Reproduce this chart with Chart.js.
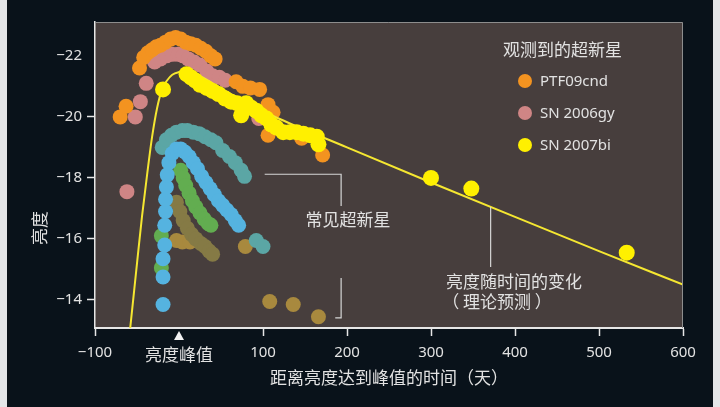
<!DOCTYPE html>
<html>
<head>
<meta charset="utf-8">
<script src="https://cdn.jsdelivr.net/npm/chart.js@4.4.0/dist/chart.umd.min.js"></script>
<style>
    html, body { margin: 0; padding: 0; background: #e4e6e8; }
    #wrap { width: 720px; height: 407px; }
</style>
</head>
<body>
<div id="wrap"><canvas id="chart" width="720" height="407"></canvas></div>
<script>
// наблюдаемые сверхновые: [дни от пика, звёздная величина]
const ptf09cnd = [[-70,-20.0],[-63,-20.35],[-47,-21.6],[-42,-21.95],[-37,-22.1],[-32,-22.2],[-27,-22.3],[-22,-22.35],[-16,-22.45],[-10,-22.55],[-4,-22.6],[2,-22.55],[8,-22.45],[14,-22.4],[20,-22.35],[26,-22.25],[32,-22.15],[38,-22.0],[43,-21.9],[68,-21.15],[76,-21.0],[85,-20.95],[96,-20.9],[106,-20.4],[112,-20.15],[106,-19.4],[146,-19.3],[171,-18.75]];
const sn2006gy = [[-62,-17.55],[-52,-20.0],[-46,-20.5],[-39,-21.1],[-29,-21.8],[-22,-21.9],[-15,-22.0],[-8,-22.05],[-1,-22.05],[5,-22.0],[11,-21.9],[18,-21.8],[25,-21.7],[33,-21.5],[40,-21.35],[48,-21.3],[55,-21.2],[95,-19.95]];
const sn2007bi = [[-19,-20.9],[9,-21.4],[14,-21.3],[19,-21.2],[25,-21.05],[33,-20.95],[40,-20.85],[47,-20.75],[55,-20.6],[62,-20.5],[69,-20.45],[74,-20.05],[80,-20.45],[86,-20.3],[92,-20.2],[98,-20.05],[104,-19.95],[110,-19.75],[116,-19.65],[124,-19.5],[132,-19.5],[140,-19.5],[148,-19.45],[156,-19.4],[164,-19.35],[166,-19.1],[300,-18.0],[348,-17.65],[533,-15.55]];

// обычные сверхновые
const commonBlue = [[-19,-13.85],[-19,-14.75],[-19,-15.35],[-17,-15.8],[-17,-16.45],[-16,-16.9],[-16,-17.3],[-15,-17.7],[-14,-18.1],[-12,-18.5],[-8,-18.8],[-3,-18.95],[2,-18.95],[7,-18.85],[12,-18.7],[17,-18.5],[22,-18.3],[27,-18.05],[32,-17.85],[37,-17.65],[42,-17.45],[47,-17.25],[52,-17.1],[57,-16.95],[62,-16.8],[67,-16.6],[71,-16.45]];
const commonGreen = [[-21,-16.1],[-21,-15.05],[2,-18.25],[5,-18.0],[8,-17.75],[12,-17.5],[16,-17.25],[20,-17.05],[25,-16.85],[30,-16.65],[35,-16.5],[38,-16.45]];
const commonTeal = [[-20,-19.0],[-15,-19.25],[-9,-19.4],[-3,-19.5],[4,-19.55],[10,-19.55],[17,-19.5],[24,-19.45],[31,-19.35],[38,-19.25],[44,-19.15],[52,-18.9],[60,-18.7],[67,-18.5],[74,-18.25],[78,-18.05],[92,-15.95],[100,-15.75]];
const commonOlive = [[-3,-17.2],[1,-16.9],[5,-16.6],[10,-16.35],[15,-16.15],[20,-16.0],[26,-15.85],[31,-15.75],[36,-15.6],[40,-15.5]];
const commonTan = [[-3,-15.95],[4,-15.9],[13,-15.9],[79,-15.75],[108,-13.95],[136,-13.85],[166,-13.45]];

// теоретическая кривая
const theoryX = [-62,-58,-50,-44,-38,-32,-26,-20,-14,-8,0,10,20,40,60,80,100,120,200,300,400,500,600];
const theoryY = [-12.1,-13.1,-15.2,-16.75,-18.1,-19.35,-20.3,-20.92,-21.2,-21.38,-21.47,-21.5,-21.42,-21.1,-20.78,-20.48,-20.2,-19.93,-19.0,-17.85,-16.72,-15.6,-14.5];

const xTicks = [-100, 0, 100, 200, 300, 400, 500, 600];
const yTicks = [-22, -20, -18, -16, -14];
const peakLabel = '亮度峰值';
const legendTitle = '观测到的超新星';
const legendNames = ['PTF09cnd', 'SN 2006gy', 'SN 2007bi'];

const TEXT = '#e2e2e2';
const CJK = '"Noto Sans CJK SC", "Noto Sans", sans-serif';
const LATIN = '"Noto Sans", "Noto Sans CJK SC", sans-serif';
const colors = {
    orange: '#f39320', pink: '#cf8585', yellow: '#fff000',
    blue: '#55b3e0', green: '#62ad50', teal: '#5ba6a5',
    olive: '#857a45', tan: '#a8893e', theory: '#f5e731'
};

function toPoints(arr) {
    return arr.map(p => ({x: p[0], y: p[1]}));
}

function minus(v) {
    return (v < 0 ? '\u2212' : '') + Math.abs(v);
}

function dots(label, arr, color, r) {
    return {
        label: label,
        data: toPoints(arr),
        backgroundColor: color,
        borderWidth: 0,
        pointRadius: r || 7.5,
        pointHoverRadius: r || 7.5
    };
}

const bgPlugin = {
    id: 'bg',
    beforeDraw(chart) {
        const ctx = chart.ctx;
        const a = chart.chartArea;
        ctx.save();
        ctx.fillStyle = '#e4e6e8';
        ctx.fillRect(0, 0, chart.width, chart.height);
        ctx.fillStyle = '#09121a';
        ctx.fillRect(7, 0, 706, chart.height);
        ctx.fillStyle = '#473e3d';
        ctx.fillRect(a.left, a.top, a.right - a.left, a.bottom - a.top);
        ctx.restore();
    }
};

function seg(ctx, pts) {
    ctx.beginPath();
    ctx.moveTo(pts[0][0], pts[0][1]);
    for (let i = 1; i < pts.length; i++) ctx.lineTo(pts[i][0], pts[i][1]);
    ctx.stroke();
}

const notesPlugin = {
    id: 'notes',
    afterDraw(chart) {
        const ctx = chart.ctx;
        const a = chart.chartArea;
        const xs = chart.scales.x, ys = chart.scales.y;
        const X = v => xs.getPixelForValue(v);
        const Y = v => ys.getPixelForValue(v);
        ctx.save();

        // рамка области графика
        ctx.strokeStyle = '#8d8d8d';
        ctx.lineWidth = 1;
        seg(ctx, [[a.left, a.top + 0.5], [a.right - 0.5, a.top + 0.5], [a.right - 0.5, a.bottom]]);

        // скобки подписей
        ctx.strokeStyle = '#d6d6d6';
        ctx.lineWidth = 1.2;
        seg(ctx, [[X(102), Y(-18.12)], [X(193), Y(-18.12)], [X(193), Y(-17.08)]]);
        seg(ctx, [[X(193), Y(-14.72)], [X(193), Y(-13.41)], [X(186), Y(-13.41)]]);
        seg(ctx, [[X(371), Y(-17.05)], [X(371), Y(-15.08)]]);

        ctx.fillStyle = TEXT;
        ctx.textAlign = 'center';
        ctx.textBaseline = 'middle';
        ctx.font = '17px ' + CJK;
        ctx.fillText('常见超新星', 348, 220);
        ctx.fillText('亮度随时间的变化', 514, 282);
        ctx.fillText('（ 理论预测 ）', 497, 302);

        // заголовки осей
        ctx.fillText('距离亮度达到峰值的时间（天）', 389, 378);
        ctx.save();
        ctx.translate(40, 228);
        ctx.rotate(-Math.PI / 2);
        ctx.fillText('亮度', 0, 0);
        ctx.restore();

        // треугольник пика
        const px = X(0);
        ctx.fillStyle = '#f2f2f2';
        ctx.beginPath();
        ctx.moveTo(px, a.bottom + 3);
        ctx.lineTo(px + 5, a.bottom + 12);
        ctx.lineTo(px - 5, a.bottom + 12);
        ctx.closePath();
        ctx.fill();

        // легенда
        ctx.textAlign = 'left';
        ctx.fillStyle = TEXT;
        ctx.font = '17px ' + CJK;
        ctx.fillText(legendTitle, 503, 50);
        const lc = [colors.orange, colors.pink, colors.yellow];
        const ly = [81, 113, 145];
        ctx.font = '15px ' + LATIN;
        legendNames.forEach((name, i) => {
            ctx.fillStyle = lc[i];
            ctx.beginPath();
            ctx.arc(525, ly[i], 7, 0, Math.PI * 2);
            ctx.fill();
            ctx.fillStyle = TEXT;
            ctx.fillText(name, 540, ly[i] + 1);
        });
        ctx.restore();
    }
};

const theoryData = theoryX.map((x, i) => ({x: x, y: theoryY[i]}));

const chart = new Chart(document.getElementById('chart').getContext('2d'), {
    type: 'scatter',
    data: {
        datasets: [
            dots('SN 2007bi', sn2007bi, colors.yellow, 8),
            {
                label: 'theory',
                data: theoryData,
                showLine: true,
                borderColor: colors.theory,
                borderWidth: 2,
                pointRadius: 0,
                cubicInterpolationMode: 'monotone'
            },
            dots('PTF09cnd', ptf09cnd, colors.orange),
            dots('SN 2006gy', sn2006gy, colors.pink),
            dots('blue', commonBlue, colors.blue),
            dots('green', commonGreen, colors.green),
            dots('teal', commonTeal, colors.teal),
            dots('olive', commonOlive, colors.olive),
            dots('tan', commonTan, colors.tan)
        ]
    },
    options: {
        responsive: false,
        animation: false,
        devicePixelRatio: 1,
        layout: { padding: { left: 0, top: 22, right: 37, bottom: 0 } },
        plugins: {
            legend: { display: false },
            tooltip: { enabled: false }
        },
        scales: {
            x: {
                type: 'linear',
                min: -100,
                max: 600,
                afterFit: s => { s.height = 79; },
                afterBuildTicks: s => { s.ticks = xTicks.map(v => ({value: v})); },
                border: { color: '#e6e6e6', width: 2 },
                grid: {
                    drawOnChartArea: false,
                    tickLength: 8,
                    tickWidth: 1.5,
                    tickColor: c => (c.tick && c.tick.value === 0) ? 'rgba(0,0,0,0)' : '#e6e6e6'
                },
                ticks: {
                    color: TEXT,
                    padding: 8,
                    maxRotation: 0,
                    font: c => (c.tick && c.tick.value === 0)
                        ? {family: CJK, size: 17}
                        : {family: LATIN, size: 15},
                    callback: v => v === 0 ? peakLabel : minus(v)
                }
            },
            y: {
                type: 'linear',
                reverse: true,
                min: -23.11,
                max: -13.08,
                afterFit: s => { s.width = 95; },
                afterBuildTicks: s => { s.ticks = yTicks.map(v => ({value: v})); },
                border: { color: '#e6e6e6', width: 1.5 },
                grid: {
                    drawOnChartArea: false,
                    tickLength: 8,
                    tickWidth: 1.5,
                    tickColor: c => (c.tick && c.tick.value === -22) ? 'rgba(0,0,0,0)' : '#e6e6e6'
                },
                ticks: {
                    color: TEXT,
                    padding: 5,
                    font: {family: LATIN, size: 15},
                    callback: v => minus(v)
                }
            }
        }
    },
    plugins: [bgPlugin, notesPlugin]
});
</script>
</body>
</html>
